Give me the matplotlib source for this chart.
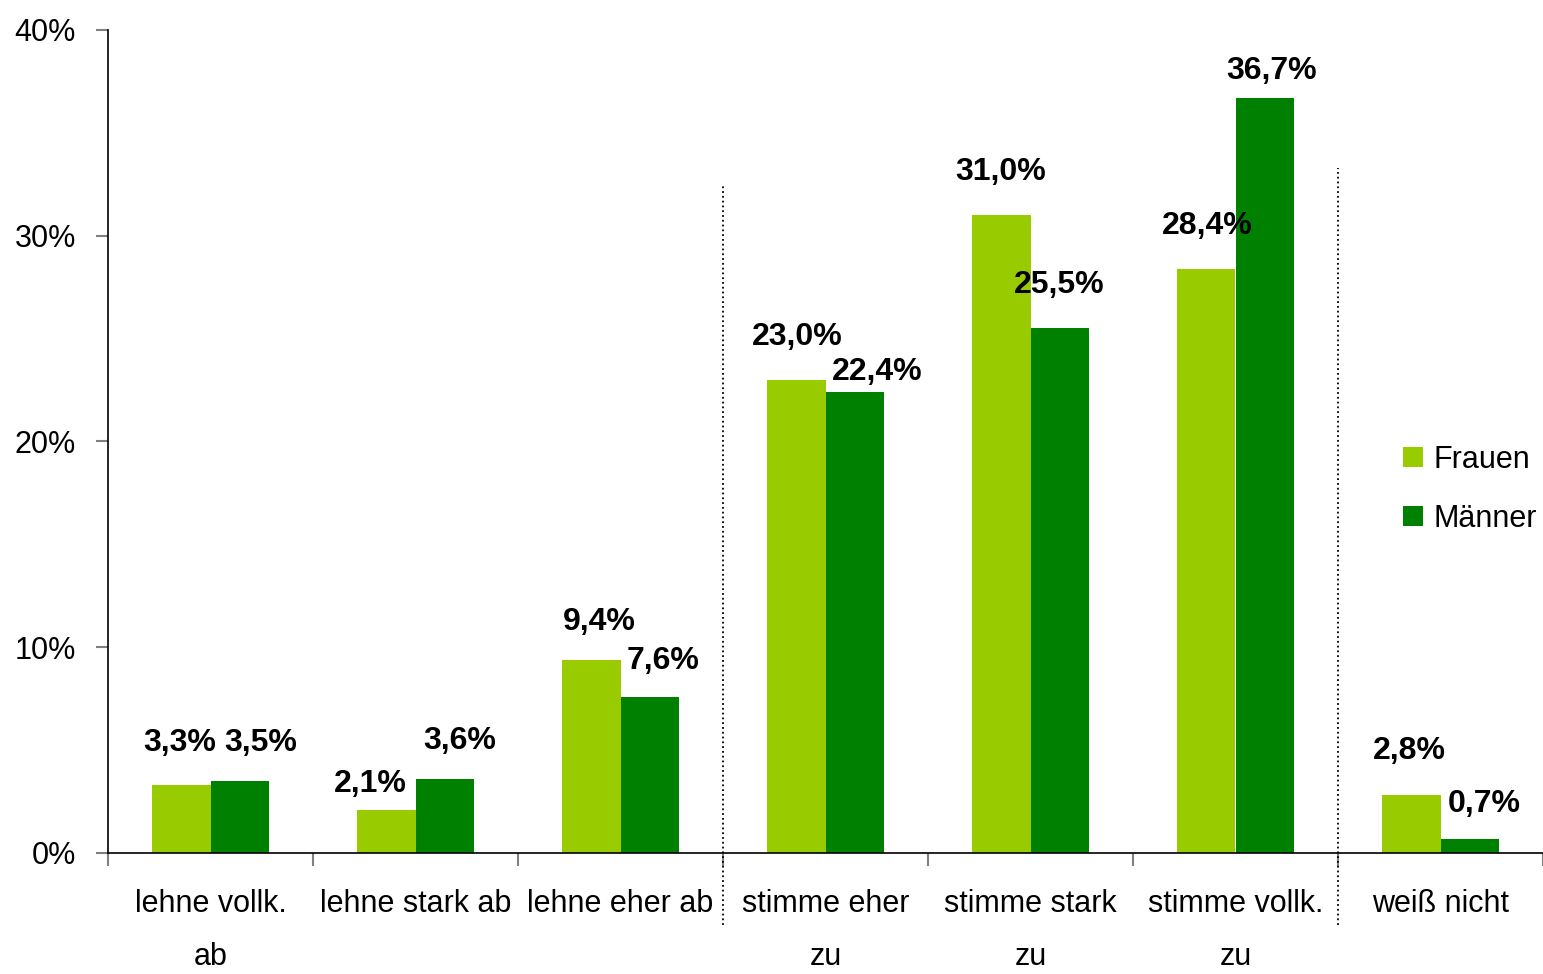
import numpy as np
import matplotlib.pyplot as plt
from matplotlib import font_manager

# pick a condensed font if there is one
names = {f.name for f in font_manager.fontManager.ttflist}
narrow = 'Liberation Sans Narrow' if 'Liberation Sans Narrow' in names else 'Liberation Sans'

categories = ['lehne vollk.\nab', 'lehne stark ab', 'lehne eher ab', 'stimme eher\nzu',
              'stimme stark\nzu', 'stimme vollk.\nzu', 'weiß nicht']
frauen = [3.3, 2.1, 9.4, 23.0, 31.0, 28.4, 2.8]
maenner = [3.5, 3.6, 7.6, 22.4, 25.5, 36.7, 0.7]
frauen_lbl = ['3,3%', '2,1%', '9,4%', '23,0%', '31,0%', '28,4%', '2,8%']
maenner_lbl = ['3,5%', '3,6%', '7,6%', '22,4%', '25,5%', '36,7%', '0,7%']

# label offsets from bar top (pixels)
off_f = [(-2, 42), (-16, 26), (8, 38), (1, 43), (-1, 43), (1, 43), (-2, 44)]
off_m = [(21, 38), (15, 38), (13, 36), (22, 20), (-1, 43), (7, 27), (15, 35)]

c_f = '#99cc00'
c_m = '#008000'

fig = plt.figure(figsize=(15.43, 9.74), dpi=100)
ax = fig.add_axes([108/1543, 1-853/974, (1543-108)/1543, (853-30)/974])

x = np.arange(len(categories))
w = 0.285
b1 = ax.bar(x - w/2, frauen, w, color=c_f, label='Frauen')
b2 = ax.bar(x + w/2, maenner, w, color=c_m, label='Männer')

for bars, labels, offs in [(b1, frauen_lbl, off_f), (b2, maenner_lbl, off_m)]:
    for r, t, (dx, dy) in zip(bars, labels, offs):
        ax.annotate(t, (r.get_x() + r.get_width()/2, r.get_height()),
                    xytext=(dx*0.72, dy*0.72), textcoords='offset points',
                    ha='center', va='center', fontsize=23, fontweight='bold',
                    family=narrow)

ax.set_xlim(-0.5, 6.5)
ax.set_ylim(0, 40)
ax.set_yticks([0, 10, 20, 30, 40])
ax.set_yticklabels(['0%', '10%', '20%', '30%', '40%'], family=narrow, fontsize=22)
ax.tick_params(axis='y', length=9, width=1.5, color='#808080', pad=14)

ax.set_xticks(x)
ax.set_xticklabels(categories, family=narrow, fontsize=22, linespacing=2.0, va='top')
ax.tick_params(axis='x', length=0, pad=26)
ax.set_xticks(np.arange(-0.5, 7, 1), minor=True)
ax.tick_params(axis='x', which='minor', length=9, width=1.5, color='#808080')

for s in ['top', 'right']:
    ax.spines[s].set_visible(False)
ax.spines['left'].set_linewidth(1.2)
ax.spines['bottom'].set_linewidth(1.2)

# dotted separators
ax.plot([2.5, 2.5], [-3.5, 32.5], color='black', linestyle=':', linewidth=1.3, clip_on=False)
ax.plot([5.5, 5.5], [-3.5, 33.3], color='black', linestyle=':', linewidth=1.3, clip_on=False)

leg = ax.legend(loc='upper left', frameon=False,
                handlelength=0.65, handleheight=0.65, handletextpad=0.35,
                labelspacing=0.95, borderaxespad=0, borderpad=0,
                prop={'family': 'Liberation Sans', 'size': 22})
leg.set_bbox_to_anchor((1403/1543, 1-445/974), transform=fig.transFigure)

fig.savefig('out.png', dpi=100)
